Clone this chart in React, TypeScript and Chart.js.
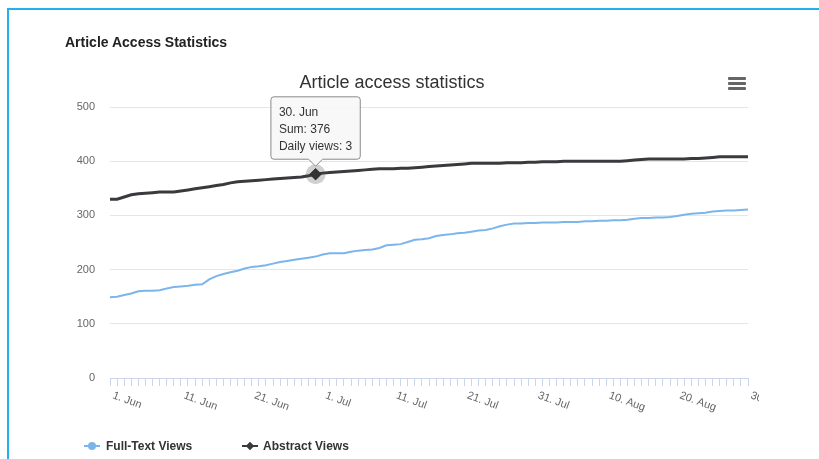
import React, { useEffect, useRef } from "react";
import { Chart, registerables } from "chart.js";

Chart.register(...registerables);

const days = [
  "1. Jun", "2. Jun", "3. Jun", "4. Jun", "5. Jun", "6. Jun", "7. Jun", "8. Jun", "9. Jun", "10. Jun",
  "11. Jun", "12. Jun", "13. Jun", "14. Jun", "15. Jun", "16. Jun", "17. Jun", "18. Jun", "19. Jun", "20. Jun",
  "21. Jun", "22. Jun", "23. Jun", "24. Jun", "25. Jun", "26. Jun", "27. Jun", "28. Jun", "29. Jun", "30. Jun",
  "1. Jul", "2. Jul", "3. Jul", "4. Jul", "5. Jul", "6. Jul", "7. Jul", "8. Jul", "9. Jul", "10. Jul",
  "11. Jul", "12. Jul", "13. Jul", "14. Jul", "15. Jul", "16. Jul", "17. Jul", "18. Jul", "19. Jul", "20. Jul",
  "21. Jul", "22. Jul", "23. Jul", "24. Jul", "25. Jul", "26. Jul", "27. Jul", "28. Jul", "29. Jul", "30. Jul",
  "31. Jul", "1. Aug", "2. Aug", "3. Aug", "4. Aug", "5. Aug", "6. Aug", "7. Aug", "8. Aug", "9. Aug",
  "10. Aug", "11. Aug", "12. Aug", "13. Aug", "14. Aug", "15. Aug", "16. Aug", "17. Aug", "18. Aug", "19. Aug",
  "20. Aug", "21. Aug", "22. Aug", "23. Aug", "24. Aug", "25. Aug", "26. Aug", "27. Aug", "28. Aug", "29. Aug",
  "30. Aug",
];

const tickDays = ["1. Jun", "11. Jun", "21. Jun", "1. Jul", "11. Jul", "21. Jul", "31. Jul", "10. Aug", "20. Aug", "30. Aug"];

const fullTextViews = [
  149, 150, 153, 156, 160, 161, 161, 162, 165, 168,
  169, 170, 172, 173, 182, 188, 192, 195, 198, 202,
  205, 206, 208, 211, 214, 216, 218, 220, 222, 224,
  228, 230, 230, 230, 233, 235, 236, 237, 240, 245,
  246, 247, 251, 255, 256, 258, 262, 264, 265, 267,
  268, 270, 272, 273, 276, 280, 283, 285, 285, 286,
  286, 287, 287, 287, 288, 288, 288, 289, 289, 290,
  290, 291, 291, 292, 294, 295, 295, 296, 296, 297,
  299, 301, 303, 304, 305, 307, 308, 309, 309, 310,
  311,
];

const abstractViews = [
  330, 330, 334, 338, 340, 341, 342, 343, 343, 343,
  345, 347, 349, 351, 353, 355, 357, 360, 362, 363,
  364, 365, 366, 367, 368, 369, 370, 371, 373, 376,
  378, 379, 380, 381, 382, 383, 384, 385, 386, 386,
  386, 387, 387, 388, 389, 390, 391, 392, 393, 394,
  395, 396, 396, 396, 396, 396, 397, 397, 397, 398,
  398, 399, 399, 399, 400, 400, 400, 400, 400, 400,
  400, 400, 400, 401, 402, 403, 404, 404, 404, 404,
  404, 404, 405, 405, 406, 407, 408, 408, 408, 408,
  408,
];

const yTicks = [0, 100, 200, 300, 400, 500];
const seriesNames = ["Full-Text Views", "Abstract Views"];
const seriesColors = ["#7cb5ec", "#3a3a3e"];
const tooltipDay = "30. Jun";
const pageHeading = "Article Access Statistics";
const chartTitle = "Article access statistics";

const FONT = '"Liberation Sans", Arial, Helvetica, sans-serif';

export default function App() {
  const ref = useRef<HTMLCanvasElement>(null);

  useEffect(() => {
    const canvas = ref.current;
    if (!canvas) return;

    const xLabelPlugin = {
      id: "xRotLabels",
      afterDraw(chart: any) {
        const ctx = chart.ctx;
        const xs = chart.scales.x;
        const y0 = chart.chartArea.bottom;
        ctx.save();
        ctx.beginPath();
        ctx.rect(0, 0, 759, 459);
        ctx.clip();
        ctx.font = `11px ${FONT}`;
        ctx.fillStyle = "#666666";
        ctx.textAlign = "left";
        ctx.textBaseline = "alphabetic";
        tickDays.forEach((lbl) => {
          const i = days.indexOf(lbl);
          const px = xs.getPixelForValue(i);
          ctx.save();
          ctx.translate(px + 2, y0 + 20);
          ctx.rotate((20 * Math.PI) / 180);
          ctx.fillText(lbl, 0, 0);
          ctx.restore();
        });
        ctx.restore();
      },
    };

    const haloPlugin = {
      id: "halo",
      afterDatasetsDraw(chart: any) {
        const ctx = chart.ctx;
        chart.getActiveElements().forEach((a: any) => {
          const el = a.element;
          ctx.save();
          ctx.beginPath();
          ctx.arc(el.x, el.y, 10, 0, Math.PI * 2);
          ctx.fillStyle = "rgba(67,67,72,0.25)";
          ctx.fill();
          ctx.restore();
          el.draw(ctx, chart.chartArea);
        });
      },
    };

    const chart = new Chart(canvas, {
      type: "line",
      data: {
        labels: days,
        datasets: [
          {
            label: seriesNames[0],
            data: fullTextViews,
            borderColor: seriesColors[0],
            backgroundColor: seriesColors[0],
            borderWidth: 2,
            pointRadius: 0,
            pointHoverRadius: 4,
            tension: 0,
          },
          {
            label: seriesNames[1],
            data: abstractViews,
            borderColor: seriesColors[1],
            backgroundColor: seriesColors[1],
            borderWidth: 3,
            pointRadius: 0,
            pointStyle: "rectRot",
            pointHoverRadius: 6,
            pointHoverBackgroundColor: "#333333",
            pointHoverBorderColor: "#333333",
            pointHoverBorderWidth: 0,
            tension: 0,
          },
        ],
      },
      options: {
        responsive: false,
        animation: false,
        events: [],
        devicePixelRatio: 1,
        layout: { padding: { left: 76, right: 71, top: 107, bottom: 0 } },
        scales: {
          x: {
            type: "category",
            offset: false,
            afterFit: (s: any) => {
              s.height = 81;
            },
            grid: {
              display: true,
              drawOnChartArea: false,
              drawTicks: true,
              tickLength: 8,
              color: "#ccd6eb",
              offset: false,
            },
            border: { display: true, color: "#ccd6eb", width: 1 },
            ticks: { display: false, autoSkip: false },
          },
          y: {
            min: 0,
            max: 500,
            afterFit: (s: any) => {
              s.width = 34;
            },
            afterBuildTicks: (s: any) => {
              s.ticks = yTicks.map((v) => ({ value: v }));
            },
            grid: { color: "#e6e6e6", drawTicks: false, lineWidth: 1 },
            border: { display: false },
            ticks: {
              padding: 15,
              color: "#666666",
              font: { family: FONT, size: 11 },
            },
          },
        },
        plugins: {
          legend: { display: false },
          title: { display: false },
          tooltip: {
            enabled: true,
            displayColors: false,
            backgroundColor: "rgba(247,247,247,0.92)",
            borderColor: "#8a8a8a",
            borderWidth: 1,
            cornerRadius: 3,
            titleColor: "#333333",
            bodyColor: "#333333",
            titleFont: { family: FONT, size: 12, weight: "normal", lineHeight: 1.2 },
            bodyFont: { family: FONT, size: 12, weight: "normal", lineHeight: 1.2 },
            titleMarginBottom: 2.6,
            titleSpacing: 0,
            bodySpacing: 2.6,
            padding: { top: 9, bottom: 5, left: 8, right: 8 },
            xAlign: "center",
            yAlign: "bottom",
            caretSize: 7,
            caretPadding: 8,
            callbacks: {
              title: (items: any[]) => days[items[0].dataIndex],
              label: (c: any) => {
                const i = c.dataIndex;
                const data = c.dataset.data as number[];
                const v = data[i];
                const prev = i > 0 ? data[i - 1] : v;
                return ["Sum: " + v, "Daily views: " + (v - prev)];
              },
            },
          },
        },
      } as any,
      plugins: [haloPlugin, xLabelPlugin],
    });

    const idx = days.indexOf(tooltipDay);
    const act = [{ datasetIndex: 1, index: idx }];
    chart.setActiveElements(act);
    chart.tooltip?.setActiveElements(act, { x: 0, y: 0 });
    chart.update();

    return () => chart.destroy();
  }, []);

  const legendX = [84, 242];

  return (
    <div>
      <div
        style={{
          position: "fixed",
          left: 7,
          top: 8,
          width: 900,
          height: 600,
          borderTop: "2px solid #22b2e9",
          borderLeft: "2px solid #22b2e9",
          boxSizing: "border-box",
        }}
      />
      <div
        style={{
          position: "fixed",
          left: 65,
          top: 34,
          font: `bold 14px ${FONT}`,
          lineHeight: "16px",
          color: "#222222",
          whiteSpace: "nowrap",
        }}
      >
        {pageHeading}
      </div>
      <canvas
        ref={ref}
        width={819}
        height={459}
        style={{ position: "fixed", left: 0, top: 0, width: 819, height: 459 }}
      />
      <div
        style={{
          position: "fixed",
          left: 0,
          width: 784,
          top: 72,
          textAlign: "center",
          font: `18px ${FONT}`,
          lineHeight: "20px",
          color: "#333333",
          whiteSpace: "nowrap",
        }}
      >
        {chartTitle}
      </div>
      {[0, 5, 10].map((dy) => (
        <div
          key={dy}
          style={{
            position: "fixed",
            left: 728,
            top: 77 + dy,
            width: 18,
            height: 3,
            background: "#666666",
            borderRadius: 1,
          }}
        />
      ))}
      {seriesNames.map((name, i) => (
        <div key={name}>
          <div
            style={{
              position: "fixed",
              left: legendX[i],
              top: 445,
              width: 16,
              height: 2,
              background: seriesColors[i],
            }}
          />
          {i === 0 ? (
            <div
              style={{
                position: "fixed",
                left: legendX[i] + 4,
                top: 442,
                width: 8,
                height: 8,
                borderRadius: "50%",
                background: seriesColors[i],
              }}
            />
          ) : (
            <div
              style={{
                position: "fixed",
                left: legendX[i] + 5,
                top: 443,
                width: 6,
                height: 6,
                transform: "rotate(45deg)",
                background: seriesColors[i],
              }}
            />
          )}
          <div
            style={{
              position: "fixed",
              left: legendX[i] + 22 - (i === 1 ? 1 : 0),
              top: 439,
              font: `bold 12px ${FONT}`,
              lineHeight: "14px",
              color: "#333333",
              whiteSpace: "nowrap",
            }}
          >
            {name}
          </div>
        </div>
      ))}
    </div>
  );
}
